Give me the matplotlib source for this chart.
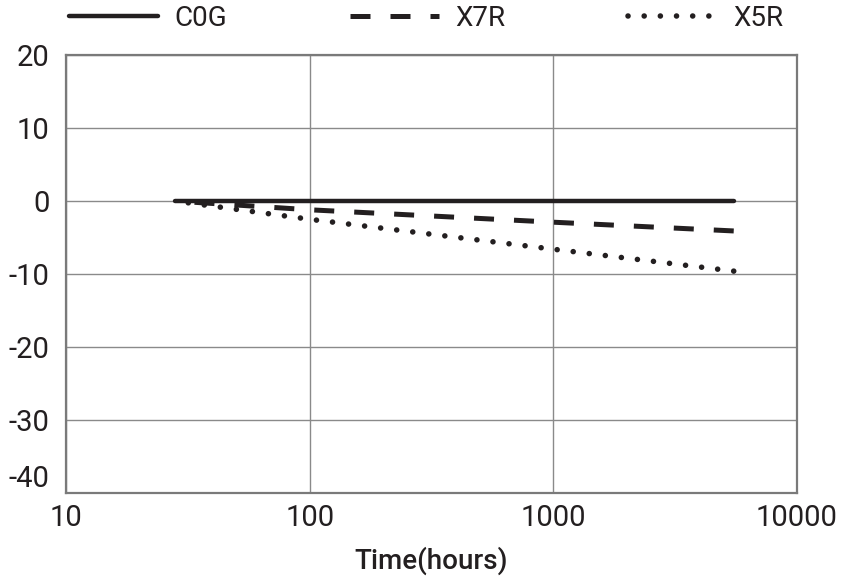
import matplotlib.pyplot as plt

# values (capacitance change %, log time axis)
hours = [28, 100, 1000, 5500]
c0g = [0.0, 0.0, 0.0, 0.0]
x7r = [0.0, -1.2, -2.9, -4.1]
x5r = [0.0, -2.5, -6.6, -9.6]

yticks = [20, 10, 0, -10, -20, -30, -40]
xticks = [10, 100, 1000, 10000]
xlabels = ["10", "100", "1000", "10000"]

plt.rcParams['font.family'] = ['Roboto', 'DejaVu Sans']
plt.rcParams['axes.unicode_minus'] = False

ink = '#231f20'
fig = plt.figure(figsize=(8.44, 5.76), dpi=100)
ax = fig.add_axes([0.0782, 0.144, 0.8661, 0.7605])

# drawn right-to-left so the dash/dot pattern starts at the right end
l1, = ax.plot(hours, c0g, color=ink, lw=3.2, solid_capstyle='round', label='C0G')
l2, = ax.plot(hours[::-1], x7r[::-1], color=ink, lw=3.6, linestyle=(0, (4, 4)), label='X7R')
l3, = ax.plot(hours[::-1], x5r[::-1], color=ink, lw=4.0, linestyle=(0, (0.01, 2.9)),
              dash_capstyle='round', label='X5R')

ax.set_xscale('log')
ax.set_xlim(10, 10000)
ax.set_ylim(-40, 20)
ax.set_xticks(xticks)
ax.set_xticklabels(xlabels)
ax.set_yticks(yticks)
ax.minorticks_off()
ax.tick_params(length=0, labelsize=21, colors=ink)
ax.tick_params(axis='y', pad=12)
ax.tick_params(axis='x', pad=8)
ax.yaxis.get_ticklabels()[-1].set_va('bottom')

ax.grid(True, color='#8a8a8a', lw=1)
for s in ax.spines.values():
    s.set_color('#7a7a7a')
    s.set_linewidth(1.6)

ax.set_xlabel('Time(hours)', fontsize=20, color=ink, labelpad=10, fontweight='medium')

fig.legend(handles=[l1, l2, l3], loc='center', bbox_to_anchor=(0.505, 0.968),
           ncol=3, frameon=False, fontsize=20, handlelength=3.2,
           handletextpad=0.6, columnspacing=4.4, labelcolor=ink)

fig.savefig('out.png', dpi=100)
